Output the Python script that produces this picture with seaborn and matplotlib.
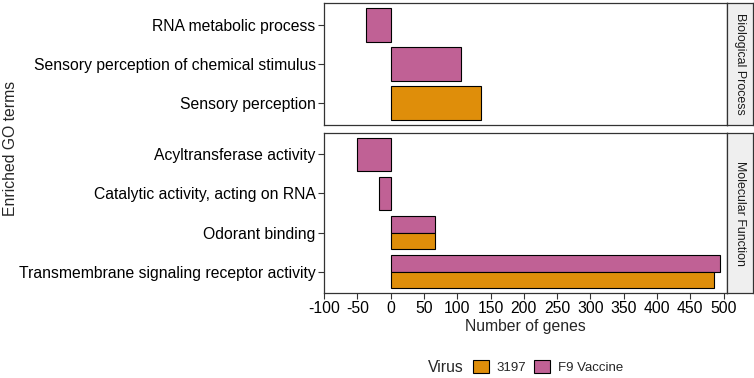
import seaborn as sns
import matplotlib.pyplot as plt
import pandas as pd
from matplotlib.patches import Patch

# ---- data ----
bp_terms = ["RNA metabolic process",
            "Sensory perception of chemical stimulus",
            "Sensory perception"]
mf_terms = ["Acyltransferase activity",
            "Catalytic activity, acting on RNA",
            "Odorant binding",
            "Transmembrane signaling receptor activity"]

bp_virus = ["F9 Vaccine", "F9 Vaccine", "3197"]
bp_genes = [-37, 106, 135]

mf_term_rows = ["Acyltransferase activity",
                "Catalytic activity, acting on RNA",
                "Odorant binding", "Odorant binding",
                "Transmembrane signaling receptor activity",
                "Transmembrane signaling receptor activity"]
mf_virus = ["F9 Vaccine", "F9 Vaccine", "F9 Vaccine", "3197", "F9 Vaccine", "3197"]
mf_genes = [-51, -17, 67, 67, 495, 486]

x_ticks = list(range(-100, 501, 50))
virus_order = ["3197", "F9 Vaccine"]
colors = {"3197": "#DF8E0A", "F9 Vaccine": "#C06195"}

sns.set_theme(style="white")
plt.rcParams["font.family"] = ["Liberation Sans", "DejaVu Sans"]
plt.rcParams["axes.unicode_minus"] = False

bp = pd.DataFrame({"term": bp_terms, "virus": bp_virus, "genes": bp_genes})
mf = pd.DataFrame({"term": mf_term_rows, "virus": mf_virus, "genes": mf_genes})

fig = plt.figure(figsize=(7.54, 3.78), dpi=100)
W, H = 754, 378
left, right = 324 / W, 727 / W
panels = [
    (bp, bp_terms, "Biological Process", 3, 125),
    (mf, mf_terms, "Molecular Function", 133, 293),
]
bw = 0.86
dark = "#333333"
fs = 11.3

for i, (df, order, strip, top, bottom) in enumerate(panels):
    ax = fig.add_axes([left, 1 - bottom / H, right - left, (bottom - top) / H])
    sns.barplot(data=df, y="term", x="genes", hue="virus", order=order,
                hue_order=["F9 Vaccine", "3197"], palette=colors, saturation=1,
                orient="h", width=bw, dodge=True, edgecolor="black",
                linewidth=0.8, legend=False, errorbar=None, ax=ax)
    # categories with a single bar take the whole slot (like ggplot dodge)
    counts = {}
    for p in ax.patches:
        c = round(p.get_y() + p.get_height() / 2)
        counts[c] = counts.get(c, 0) + 1
    for p in ax.patches:
        c = round(p.get_y() + p.get_height() / 2)
        if counts[c] == 1:
            p.set_y(c - bw / 2)
            p.set_height(bw)
    ax.set_xlim(-100, 505)
    ax.set_ylim(len(order) - 0.5 + 0.05, -0.5 - 0.05)
    ax.set_xticks(x_ticks)
    ax.set_ylabel("")
    ax.set_xlabel("")
    for s in ax.spines.values():
        s.set_color(dark)
        s.set_linewidth(0.9)
    ax.tick_params(axis="y", left=True, length=4, width=0.8, color=dark,
                   labelsize=fs, labelcolor="black", pad=2)
    if i == 0:
        ax.tick_params(axis="x", bottom=False, labelbottom=False)
    else:
        ax.tick_params(axis="x", bottom=True, length=4, width=0.8, color=dark,
                       labelsize=fs, labelcolor="black", pad=2)
    # facet strip
    sax = fig.add_axes([right, 1 - bottom / H, 26 / W, (bottom - top) / H])
    sax.set_facecolor("#EFEFEF")
    sax.set_xticks([])
    sax.set_yticks([])
    for s in sax.spines.values():
        s.set_color(dark)
        s.set_linewidth(0.9)
    sax.text(0.5, 0.5, strip, rotation=-90, ha="center", va="center",
             fontsize=8.9, transform=sax.transAxes, color="#1A1A1A")

fig.text((324 + 727) / 2 / W, 1 - 326 / H, "Number of genes",
         ha="center", va="center", fontsize=fs)
fig.text(11 / W, 1 - 148 / H, "Enriched GO terms", rotation=90,
         ha="center", va="center", fontsize=fs)

# legend at the bottom
fig.text(446 / W, 1 - 367 / H, "Virus", ha="center", va="center", fontsize=fs)
handles = [Patch(facecolor=colors[v], edgecolor="black", linewidth=0.8, label=v)
           for v in virus_order]
fig.legend(handles=handles, loc="center left", bbox_to_anchor=(473 / W, 1 - 367 / H),
           ncol=2, frameon=False, fontsize=9.5, handlelength=1.2, handleheight=1.2,
           handletextpad=0.6, columnspacing=0.6, borderaxespad=0, borderpad=0)

fig.savefig("out.png", dpi=100)
